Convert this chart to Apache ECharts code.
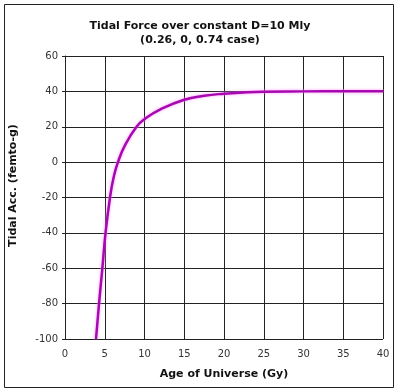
<!DOCTYPE html>
<html>
<head>
<meta charset="utf-8">
<script src="https://cdn.jsdelivr.net/npm/echarts@6/dist/echarts.min.js"></script>
<style>
html,body{margin:0;padding:0;background:#fff;}
#c{width:400px;height:392px;}
</style>
</head>
<body>
<div id="c"></div>
<script>
var titleLines = ["Tidal Force over constant D=10 Mly", "(0.26, 0, 0.74 case)"];
var xName = "Age of Universe (Gy)";
var yName = "Tidal Acc. (femto-g)";
var ageGy = [3.9, 4.28, 4.7, 5.1, 5.66, 6.1, 6.66, 7.6, 9.0, 10, 12, 15, 17.5, 20, 22.5, 25, 30, 35, 40];
var tidalAcc = [-100, -80, -60, -40, -20, -9, 0, 10, 20, 24.3, 29.8, 35.3, 37.5, 38.7, 39.4, 39.8, 40, 40.1, 40.1];

var chart = echarts.init(document.getElementById('c'), null, {renderer: 'canvas'});
var pts = ageGy.map(function (x, i) { return [x, tidalAcc[i]]; });
var font = 'DejaVu Sans, Verdana, sans-serif';
chart.setOption({
  animation: false,
  backgroundColor: '#fff',
  title: {
    text: titleLines.join('\n'),
    left: 'center',
    top: 14,
    textStyle: {fontFamily: font, fontSize: 11, fontWeight: 'bold', color: '#111', lineHeight: 14}
  },
  graphic: [{
    type: 'rect',
    shape: {x: 4.5, y: 4.5, width: 389, height: 383},
    style: {fill: null, stroke: '#222', lineWidth: 1},
    silent: true
  }],
  grid: {left: 65, right: 17, top: 56, bottom: 53},
  xAxis: {
    type: 'value', min: 0, max: 40, interval: 5,
    name: xName, nameLocation: 'middle', nameGap: 30,
    nameTextStyle: {fontFamily: font, fontSize: 11, fontWeight: 'bold', color: '#111'},
    axisLine: {show: true, lineStyle: {color: '#222', width: 1}},
    axisTick: {show: false},
    axisLabel: {fontFamily: font, fontSize: 10, color: '#333', margin: 10},
    splitLine: {show: true, lineStyle: {color: '#222', width: 1}}
  },
  yAxis: {
    type: 'value', min: -100, max: 60, interval: 20,
    name: yName, nameLocation: 'middle', nameGap: 46, nameRotate: 90,
    nameTextStyle: {fontFamily: font, fontSize: 11, fontWeight: 'bold', color: '#111', padding: [0, 0, 0, 24]},
    axisLine: {show: true, lineStyle: {color: '#222', width: 1}},
    axisTick: {show: true, length: 3, lineStyle: {color: '#222'}},
    axisLabel: {fontFamily: font, fontSize: 10, color: '#333', margin: 7},
    splitLine: {show: true, lineStyle: {color: '#222', width: 1}}
  },
  series: [{
    type: 'line',
    data: pts,
    smooth: 0.5,
    showSymbol: false,
    lineStyle: {color: '#A808B0', width: 2.5, shadowColor: 'rgba(255,140,255,0.9)', shadowBlur: 3},
    clip: true
  }]
});
</script>
</body>
</html>
